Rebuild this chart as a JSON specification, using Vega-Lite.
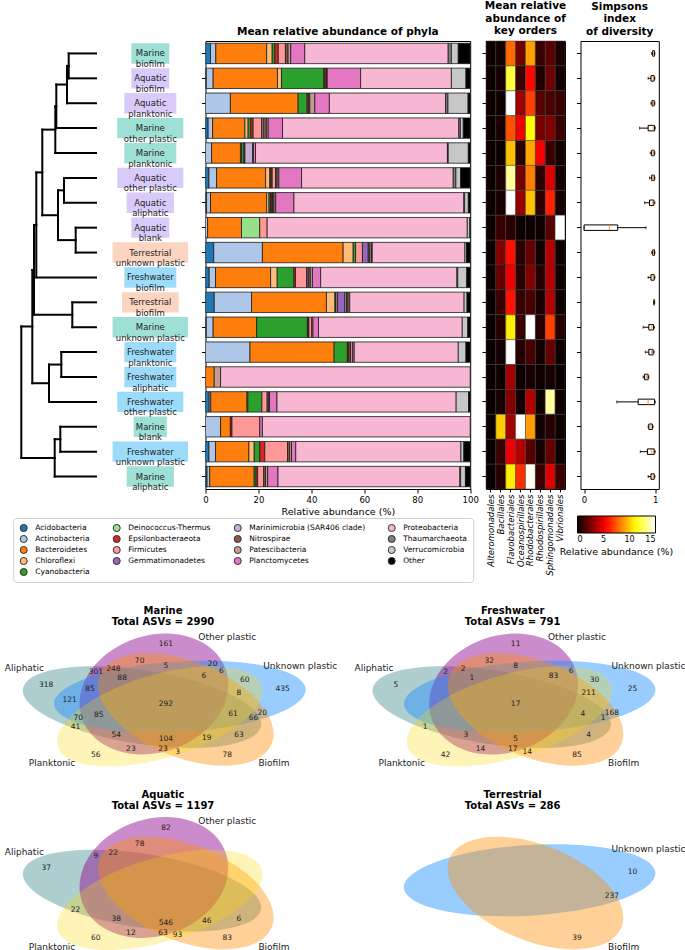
{
 "$schema": "https://vega.github.io/schema/vega-lite/v6.json",
 "padding": 0,
 "background": "white",
 "config": {
  "font": "DejaVu Sans",
  "view": {"stroke": "black", "strokeWidth": 1},
  "axis": {"domain": false, "grid": false, "labelFont": "DejaVu Sans", "labelFontSize": 8.5, "labelColor": "black", "tickColor": "black", "tickSize": 4, "tickWidth": 1, "titleFont": "DejaVu Sans", "titleFontSize": 9.5, "titleFontWeight": "normal", "titleColor": "black", "labelFlush": false, "labelOverlap": false, "labelPadding": 2, "titlePadding": 3},
  "title": {"font": "DejaVu Sans", "fontSize": 10.5, "fontWeight": "bold", "color": "black", "anchor": "middle", "offset": 4, "lineHeight": 12.5},
  "legend": {"labelFont": "DejaVu Sans", "titleFont": "DejaVu Sans", "labelColor": "black", "titleColor": "black"}
 },
 "datasets": {
  "bars": [
   {"sample": "Marine biofilm", "Acidobacteria": 1.9, "Actinobacteria": 2.0, "Bacteroidetes": 19.2, "Chloroflexi": 2.1, "Cyanobacteria": 1.0, "Epsilonbacteraeota": 1.3, "Firmicutes": 2.7, "Nitrospirae": 1.0, "Patescibacteria": 1.0, "Planctomycetes": 5.3, "Proteobacteria": 54.2, "Thaumarchaeota": 1.2, "Verrucomicrobia": 2.6, "Other": 4.5},
   {"sample": "Aquatic biofilm", "Acidobacteria": 0.3, "Actinobacteria": 2.6, "Bacteroidetes": 24.3, "Chloroflexi": 1.5, "Cyanobacteria": 16.0, "Epsilonbacteraeota": 0.5, "Nitrospirae": 0.5, "Patescibacteria": 0.3, "Planctomycetes": 12.6, "Proteobacteria": 34.3, "Verrucomicrobia": 5.5, "Other": 1.6},
   {"sample": "Aquatic planktonic", "Actinobacteria": 9.4, "Bacteroidetes": 25.6, "Cyanobacteria": 3.4, "Epsilonbacteraeota": 0.6, "Nitrospirae": 0.4, "Patescibacteria": 1.9, "Planctomycetes": 5.5, "Proteobacteria": 43.9, "Thaumarchaeota": 0.9, "Verrucomicrobia": 7.6, "Other": 0.8},
   {"sample": "Marine other plastic", "Acidobacteria": 1.0, "Actinobacteria": 1.7, "Bacteroidetes": 12.2, "Chloroflexi": 1.2, "Cyanobacteria": 1.0, "Epsilonbacteraeota": 0.9, "Firmicutes": 3.2, "Marinimicrobia (SAR406 clade)": 0.6, "Nitrospirae": 1.2, "Patescibacteria": 0.7, "Planctomycetes": 5.4, "Proteobacteria": 66.6, "Thaumarchaeota": 0.6, "Verrucomicrobia": 1.1, "Other": 2.6},
   {"sample": "Marine planktonic", "Actinobacteria": 2.3, "Bacteroidetes": 10.9, "Chloroflexi": 0.4, "Cyanobacteria": 0.9, "Epsilonbacteraeota": 0.4, "Marinimicrobia (SAR406 clade)": 2.9, "Patescibacteria": 0.3, "Planctomycetes": 0.8, "Proteobacteria": 72.5, "Thaumarchaeota": 0.3, "Verrucomicrobia": 7.6, "Other": 0.7},
   {"sample": "Aquatic other plastic", "Acidobacteria": 1.3, "Actinobacteria": 2.9, "Bacteroidetes": 18.5, "Chloroflexi": 1.6, "Cyanobacteria": 0.4, "Epsilonbacteraeota": 0.5, "Firmicutes": 1.3, "Nitrospirae": 0.6, "Patescibacteria": 0.6, "Planctomycetes": 8.6, "Proteobacteria": 57.3, "Thaumarchaeota": 1.0, "Verrucomicrobia": 1.8, "Other": 3.6},
   {"sample": "Aquatic aliphatic", "Acidobacteria": 0.4, "Actinobacteria": 1.5, "Bacteroidetes": 21.2, "Chloroflexi": 0.9, "Cyanobacteria": 0.5, "Epsilonbacteraeota": 0.5, "Firmicutes": 0.3, "Nitrospirae": 0.6, "Patescibacteria": 0.6, "Planctomycetes": 6.9, "Proteobacteria": 64.2, "Thaumarchaeota": 0.3, "Verrucomicrobia": 1.4, "Other": 0.7},
   {"sample": "Aquatic blank", "Actinobacteria": 0.8, "Bacteroidetes": 12.8, "Deinococcus-Thermus": 6.9, "Firmicutes": 2.8, "Proteobacteria": 75.6, "Verrucomicrobia": 1.0, "Other": 0.1},
   {"sample": "Terrestrial unknown plastic", "Acidobacteria": 3.1, "Actinobacteria": 18.4, "Bacteroidetes": 30.5, "Chloroflexi": 3.8, "Cyanobacteria": 0.9, "Firmicutes": 2.6, "Gemmatimonadetes": 2.2, "Nitrospirae": 0.6, "Patescibacteria": 0.6, "Planctomycetes": 0.3, "Proteobacteria": 35.0, "Verrucomicrobia": 0.6, "Other": 1.4},
   {"sample": "Freshwater biofilm", "Acidobacteria": 1.4, "Actinobacteria": 2.4, "Bacteroidetes": 20.8, "Chloroflexi": 2.5, "Cyanobacteria": 6.3, "Epsilonbacteraeota": 0.6, "Firmicutes": 4.2, "Gemmatimonadetes": 0.6, "Nitrospirae": 0.8, "Patescibacteria": 0.8, "Planctomycetes": 3.1, "Proteobacteria": 51.5, "Thaumarchaeota": 0.3, "Verrucomicrobia": 3.4, "Other": 1.3},
   {"sample": "Terrestrial biofilm", "Acidobacteria": 3.3, "Actinobacteria": 14.1, "Bacteroidetes": 28.3, "Chloroflexi": 3.2, "Cyanobacteria": 0.4, "Firmicutes": 0.6, "Gemmatimonadetes": 2.8, "Marinimicrobia (SAR406 clade)": 0.6, "Nitrospirae": 0.6, "Patescibacteria": 0.6, "Proteobacteria": 43.2, "Verrucomicrobia": 1.1, "Other": 1.2},
   {"sample": "Marine unknown plastic", "Acidobacteria": 0.3, "Actinobacteria": 2.6, "Bacteroidetes": 16.4, "Cyanobacteria": 19.2, "Epsilonbacteraeota": 0.6, "Firmicutes": 1.0, "Patescibacteria": 0.5, "Planctomycetes": 2.1, "Proteobacteria": 54.3, "Verrucomicrobia": 2.1, "Other": 0.9},
   {"sample": "Freshwater planktonic", "Actinobacteria": 16.8, "Bacteroidetes": 31.8, "Cyanobacteria": 5.0, "Epsilonbacteraeota": 0.6, "Nitrospirae": 0.6, "Patescibacteria": 0.8, "Planctomycetes": 0.6, "Proteobacteria": 39.3, "Verrucomicrobia": 2.9, "Other": 1.6},
   {"sample": "Freshwater aliphatic", "Bacteroidetes": 3.3, "Patescibacteria": 2.4, "Proteobacteria": 94.3},
   {"sample": "Freshwater other plastic", "Acidobacteria": 1.4, "Actinobacteria": 0.6, "Bacteroidetes": 13.7, "Chloroflexi": 0.3, "Cyanobacteria": 5.3, "Firmicutes": 2.0, "Nitrospirae": 0.5, "Patescibacteria": 0.4, "Planctomycetes": 2.8, "Proteobacteria": 67.7, "Verrucomicrobia": 4.7, "Other": 0.6},
   {"sample": "Marine blank", "Actinobacteria": 5.7, "Bacteroidetes": 3.7, "Epsilonbacteraeota": 0.6, "Firmicutes": 10.5, "Planctomycetes": 1.0, "Proteobacteria": 78.5},
   {"sample": "Freshwater unknown plastic", "Acidobacteria": 1.3, "Actinobacteria": 2.5, "Bacteroidetes": 12.6, "Chloroflexi": 2.0, "Cyanobacteria": 2.1, "Epsilonbacteraeota": 1.9, "Firmicutes": 8.6, "Nitrospirae": 0.8, "Patescibacteria": 0.7, "Planctomycetes": 1.6, "Proteobacteria": 62.4, "Verrucomicrobia": 1.1, "Other": 2.4},
   {"sample": "Marine aliphatic", "Acidobacteria": 0.6, "Actinobacteria": 1.0, "Bacteroidetes": 16.8, "Cyanobacteria": 0.7, "Epsilonbacteraeota": 0.6, "Firmicutes": 2.3, "Nitrospirae": 0.7, "Patescibacteria": 0.8, "Planctomycetes": 3.9, "Proteobacteria": 68.7, "Thaumarchaeota": 0.3, "Verrucomicrobia": 1.8, "Other": 1.8}
  ],
  "heat": [
   {"sample": "Marine biofilm", "Alteromonadales": 0.1, "Bacillales": 0.2, "Flavobacteriales": 7.8, "Oceanospirillales": 2.3, "Rhodobacterales": 9.1, "Rhodospirillales": 1.0, "Sphingomonadales": 1.8, "Vibrionales": 0.4},
   {"sample": "Aquatic biofilm", "Alteromonadales": 0.1, "Bacillales": 0.2, "Flavobacteriales": 12.1, "Oceanospirillales": 1.0, "Rhodobacterales": 5.6, "Rhodospirillales": 0.5, "Sphingomonadales": 2.2, "Vibrionales": 0.2},
   {"sample": "Aquatic planktonic", "Alteromonadales": 0.1, "Bacillales": 0.1, "Flavobacteriales": 15, "Oceanospirillales": 3.3, "Rhodobacterales": 6.9, "Rhodospirillales": 1.7, "Sphingomonadales": 1.4, "Vibrionales": 1.0},
   {"sample": "Marine other plastic", "Alteromonadales": 0.1, "Bacillales": 0.3, "Flavobacteriales": 7.3, "Oceanospirillales": 5.1, "Rhodobacterales": 11.3, "Rhodospirillales": 2.4, "Sphingomonadales": 2.7, "Vibrionales": 1.0},
   {"sample": "Marine planktonic", "Alteromonadales": 0.1, "Bacillales": 0.1, "Flavobacteriales": 9.8, "Oceanospirillales": 0.7, "Rhodobacterales": 9.2, "Rhodospirillales": 5.2, "Sphingomonadales": 1.0, "Vibrionales": 0.2},
   {"sample": "Aquatic other plastic", "Alteromonadales": 0.1, "Bacillales": 0.4, "Flavobacteriales": 13.5, "Oceanospirillales": 2.4, "Rhodobacterales": 8.3, "Rhodospirillales": 0.7, "Sphingomonadales": 4.7, "Vibrionales": 0.3},
   {"sample": "Aquatic aliphatic", "Alteromonadales": 0.1, "Bacillales": 0.3, "Flavobacteriales": 15, "Oceanospirillales": 3.1, "Rhodobacterales": 9.8, "Rhodospirillales": 0.7, "Sphingomonadales": 6.2, "Vibrionales": 0.3},
   {"sample": "Aquatic blank", "Alteromonadales": 0.1, "Bacillales": 1.0, "Flavobacteriales": 0.7, "Oceanospirillales": 0.1, "Rhodobacterales": 0.1, "Rhodospirillales": 0.1, "Sphingomonadales": 1.7, "Vibrionales": 15},
   {"sample": "Terrestrial unknown plastic", "Alteromonadales": 0.1, "Bacillales": 2.7, "Flavobacteriales": 5.8, "Oceanospirillales": 0.7, "Rhodobacterales": 2.0, "Rhodospirillales": 0.2, "Sphingomonadales": 3.8, "Vibrionales": 0.1},
   {"sample": "Freshwater biofilm", "Alteromonadales": 0.05, "Bacillales": 2.0, "Flavobacteriales": 5.1, "Oceanospirillales": 0.7, "Rhodobacterales": 2.7, "Rhodospirillales": 0.6, "Sphingomonadales": 3.8, "Vibrionales": 0.1},
   {"sample": "Terrestrial biofilm", "Alteromonadales": 0, "Bacillales": 1.0, "Flavobacteriales": 5.9, "Oceanospirillales": 1.0, "Rhodobacterales": 1.4, "Rhodospirillales": 0.3, "Sphingomonadales": 3.8, "Vibrionales": 0.1},
   {"sample": "Marine unknown plastic", "Alteromonadales": 0, "Bacillales": 0.6, "Flavobacteriales": 10.8, "Oceanospirillales": 1.0, "Rhodobacterales": 15, "Rhodospirillales": 0.6, "Sphingomonadales": 6.9, "Vibrionales": 0.6},
   {"sample": "Freshwater planktonic", "Alteromonadales": 0, "Bacillales": 0.2, "Flavobacteriales": 15, "Oceanospirillales": 0.6, "Rhodobacterales": 1.4, "Rhodospirillales": 0.2, "Sphingomonadales": 2.0, "Vibrionales": 0.1},
   {"sample": "Freshwater aliphatic", "Alteromonadales": 0, "Bacillales": 0.1, "Flavobacteriales": 3.4, "Oceanospirillales": 0.1, "Rhodobacterales": 0.3, "Rhodospirillales": 0.1, "Sphingomonadales": 0.3, "Vibrionales": 0},
   {"sample": "Freshwater other plastic", "Alteromonadales": 0, "Bacillales": 0.3, "Flavobacteriales": 2.7, "Oceanospirillales": 0.2, "Rhodobacterales": 3.8, "Rhodospirillales": 0.1, "Sphingomonadales": 13.6, "Vibrionales": 0.1},
   {"sample": "Marine blank", "Alteromonadales": 0, "Bacillales": 10.1, "Flavobacteriales": 3.4, "Oceanospirillales": 15, "Rhodobacterales": 9.0, "Rhodospirillales": 0.2, "Sphingomonadales": 0.6, "Vibrionales": 0.1},
   {"sample": "Freshwater unknown plastic", "Alteromonadales": 0, "Bacillales": 1.0, "Flavobacteriales": 5.1, "Oceanospirillales": 3.8, "Rhodobacterales": 1.7, "Rhodospirillales": 0.3, "Sphingomonadales": 2.0, "Vibrionales": 0.1},
   {"sample": "Marine aliphatic", "Alteromonadales": 0, "Bacillales": 0.6, "Flavobacteriales": 10.8, "Oceanospirillales": 6.5, "Rhodobacterales": 14.8, "Rhodospirillales": 1.0, "Sphingomonadales": 4.8, "Vibrionales": 1.0}
  ],
  "box": [
   {"sample": "Marine biofilm", "lo": 0.95, "q1": 0.965, "med": 0.98, "q3": 0.99, "hi": 0.995},
   {"sample": "Aquatic biofilm", "lo": 0.9, "q1": 0.94, "med": 0.97, "q3": 0.985, "hi": 0.995},
   {"sample": "Aquatic planktonic", "lo": 0.94, "q1": 0.955, "med": 0.975, "q3": 0.985, "hi": 0.995},
   {"sample": "Marine other plastic", "lo": 0.78, "q1": 0.9, "med": 0.97, "q3": 0.99, "hi": 1.0},
   {"sample": "Marine planktonic", "lo": 0.93, "q1": 0.95, "med": 0.975, "q3": 0.985, "hi": 0.995},
   {"sample": "Aquatic other plastic", "lo": 0.92, "q1": 0.95, "med": 0.97, "q3": 0.985, "hi": 0.995},
   {"sample": "Aquatic aliphatic", "lo": 0.85, "q1": 0.92, "med": 0.965, "q3": 0.98, "hi": 0.995},
   {"sample": "Aquatic blank", "lo": 0.0, "q1": 0.0, "med": 0.357, "q3": 0.473, "hi": 0.87},
   {"sample": "Terrestrial unknown plastic", "lo": 0.95, "q1": 0.965, "med": 0.98, "q3": 0.99, "hi": 0.995},
   {"sample": "Freshwater biofilm", "lo": 0.9, "q1": 0.94, "med": 0.97, "q3": 0.985, "hi": 0.995},
   {"sample": "Terrestrial biofilm", "lo": 0.975, "q1": 0.98, "med": 0.985, "q3": 0.99, "hi": 0.993},
   {"sample": "Marine unknown plastic", "lo": 0.83, "q1": 0.91, "med": 0.95, "q3": 0.975, "hi": 0.99},
   {"sample": "Freshwater planktonic", "lo": 0.86, "q1": 0.91, "med": 0.95, "q3": 0.97, "hi": 0.985},
   {"sample": "Freshwater aliphatic", "lo": 0.83, "q1": 0.85, "med": 0.88, "q3": 0.9, "hi": 0.91},
   {"sample": "Freshwater other plastic", "lo": 0.46, "q1": 0.76, "med": 0.9, "q3": 0.99, "hi": 1.0},
   {"sample": "Marine blank", "lo": 0.9, "q1": 0.91, "med": 0.94, "q3": 0.96, "hi": 0.97},
   {"sample": "Freshwater unknown plastic", "lo": 0.79, "q1": 0.89, "med": 0.95, "q3": 0.985, "hi": 1.0},
   {"sample": "Marine aliphatic", "lo": 0.9, "q1": 0.94, "med": 0.97, "q3": 0.985, "hi": 0.995}
  ],
  "dendro": [
   {"x": 27.3, "x2": 27.3, "y": 0, "y2": 1}, {"x": 0, "x2": 27.3, "y": 0, "y2": 0}, {"x": 0, "x2": 27.3, "y": 1, "y2": 1},
   {"x": 29, "x2": 29, "y": 0.5, "y2": 2}, {"x": 27.3, "x2": 29, "y": 0.5, "y2": 0.5}, {"x": 0, "x2": 29, "y": 2, "y2": 2},
   {"x": 39.7, "x2": 39.7, "y": 1.25, "y2": 3}, {"x": 29, "x2": 39.7, "y": 1.25, "y2": 1.25}, {"x": 0, "x2": 39.7, "y": 3, "y2": 3},
   {"x": 40.7, "x2": 40.7, "y": 2.125, "y2": 4}, {"x": 39.7, "x2": 40.7, "y": 2.125, "y2": 2.125}, {"x": 0, "x2": 40.7, "y": 4, "y2": 4},
   {"x": 32, "x2": 32, "y": 5, "y2": 6}, {"x": 0, "x2": 32, "y": 5, "y2": 5}, {"x": 0, "x2": 32, "y": 6, "y2": 6},
   {"x": 20.3, "x2": 20.3, "y": 7, "y2": 8}, {"x": 0, "x2": 20.3, "y": 7, "y2": 7}, {"x": 0, "x2": 20.3, "y": 8, "y2": 8},
   {"x": 38, "x2": 38, "y": 5.5, "y2": 7.5}, {"x": 32, "x2": 38, "y": 5.5, "y2": 5.5}, {"x": 20.3, "x2": 38, "y": 7.5, "y2": 7.5},
   {"x": 53.7, "x2": 53.7, "y": 3.06, "y2": 6.5}, {"x": 40.7, "x2": 53.7, "y": 3.06, "y2": 3.06}, {"x": 38, "x2": 53.7, "y": 6.5, "y2": 6.5},
   {"x": 59.7, "x2": 59.7, "y": 4.78, "y2": 9}, {"x": 53.7, "x2": 59.7, "y": 4.78, "y2": 4.78}, {"x": 0, "x2": 59.7, "y": 9, "y2": 9},
   {"x": 23.7, "x2": 23.7, "y": 10, "y2": 11}, {"x": 0, "x2": 23.7, "y": 10, "y2": 10}, {"x": 0, "x2": 23.7, "y": 11, "y2": 11},
   {"x": 62, "x2": 62, "y": 6.89, "y2": 10.5}, {"x": 59.7, "x2": 62, "y": 6.89, "y2": 6.89}, {"x": 23.7, "x2": 62, "y": 10.5, "y2": 10.5},
   {"x": 34.7, "x2": 34.7, "y": 12, "y2": 13}, {"x": 0, "x2": 34.7, "y": 12, "y2": 12}, {"x": 0, "x2": 34.7, "y": 13, "y2": 13},
   {"x": 47, "x2": 47, "y": 12.5, "y2": 14}, {"x": 34.7, "x2": 47, "y": 12.5, "y2": 12.5}, {"x": 0, "x2": 47, "y": 14, "y2": 14},
   {"x": 63.7, "x2": 63.7, "y": 8.7, "y2": 13.25}, {"x": 62, "x2": 63.7, "y": 8.7, "y2": 8.7}, {"x": 47, "x2": 63.7, "y": 13.25, "y2": 13.25},
   {"x": 35.7, "x2": 35.7, "y": 15, "y2": 16}, {"x": 0, "x2": 35.7, "y": 15, "y2": 15}, {"x": 0, "x2": 35.7, "y": 16, "y2": 16},
   {"x": 41.3, "x2": 41.3, "y": 15.5, "y2": 17}, {"x": 35.7, "x2": 41.3, "y": 15.5, "y2": 15.5}, {"x": 0, "x2": 41.3, "y": 17, "y2": 17},
   {"x": 74.7, "x2": 74.7, "y": 10.97, "y2": 16.25}, {"x": 63.7, "x2": 74.7, "y": 10.97, "y2": 10.97}, {"x": 41.3, "x2": 74.7, "y": 16.25, "y2": 16.25}
  ],
  "labels": [
   {"i": 0, "label": ["Marine", "biofilm"], "habitat": "Marine"},
   {"i": 1, "label": ["Aquatic", "biofilm"], "habitat": "Aquatic"},
   {"i": 2, "label": ["Aquatic", "planktonic"], "habitat": "Aquatic"},
   {"i": 3, "label": ["Marine", "other plastic"], "habitat": "Marine"},
   {"i": 4, "label": ["Marine", "planktonic"], "habitat": "Marine"},
   {"i": 5, "label": ["Aquatic", "other plastic"], "habitat": "Aquatic"},
   {"i": 6, "label": ["Aquatic", "aliphatic"], "habitat": "Aquatic"},
   {"i": 7, "label": ["Aquatic", "blank"], "habitat": "Aquatic"},
   {"i": 8, "label": ["Terrestrial", "unknown plastic"], "habitat": "Terrestrial"},
   {"i": 9, "label": ["Freshwater", "biofilm"], "habitat": "Freshwater"},
   {"i": 10, "label": ["Terrestrial", "biofilm"], "habitat": "Terrestrial"},
   {"i": 11, "label": ["Marine", "unknown plastic"], "habitat": "Marine"},
   {"i": 12, "label": ["Freshwater", "planktonic"], "habitat": "Freshwater"},
   {"i": 13, "label": ["Freshwater", "aliphatic"], "habitat": "Freshwater"},
   {"i": 14, "label": ["Freshwater", "other plastic"], "habitat": "Freshwater"},
   {"i": 15, "label": ["Marine", "blank"], "habitat": "Marine"},
   {"i": 16, "label": ["Freshwater", "unknown plastic"], "habitat": "Freshwater"},
   {"i": 17, "label": ["Marine", "aliphatic"], "habitat": "Marine"}
  ],
  "vsets": [
   {"panel": "Marine", "set": "Aliphatic", "cx": 0.428, "cy": 0.449},
   {"panel": "Marine", "set": "Other plastic", "cx": 0.469, "cy": 0.543},
   {"panel": "Marine", "set": "Unknown plastic", "cx": 0.558, "cy": 0.523},
   {"panel": "Marine", "set": "Biofilm", "cx": 0.578, "cy": 0.432},
   {"panel": "Marine", "set": "Planktonic", "cx": 0.489, "cy": 0.383},
   {"panel": "Freshwater", "set": "Aliphatic", "cx": 0.428, "cy": 0.449},
   {"panel": "Freshwater", "set": "Other plastic", "cx": 0.469, "cy": 0.543},
   {"panel": "Freshwater", "set": "Unknown plastic", "cx": 0.558, "cy": 0.523},
   {"panel": "Freshwater", "set": "Biofilm", "cx": 0.578, "cy": 0.432},
   {"panel": "Freshwater", "set": "Planktonic", "cx": 0.489, "cy": 0.383},
   {"panel": "Aquatic", "set": "Aliphatic", "cx": 0.428, "cy": 0.449},
   {"panel": "Aquatic", "set": "Other plastic", "cx": 0.469, "cy": 0.543},
   {"panel": "Aquatic", "set": "Biofilm", "cx": 0.578, "cy": 0.432},
   {"panel": "Aquatic", "set": "Planktonic", "cx": 0.489, "cy": 0.383},
   {"panel": "Terrestrial", "set": "Unknown plastic", "cx": 0.558, "cy": 0.523},
   {"panel": "Terrestrial", "set": "Biofilm", "cx": 0.578, "cy": 0.432}
  ],
  "vnames": [
   {"panel": "Marine", "name": "Aliphatic", "u": 0.025, "v": 0.727},
   {"panel": "Marine", "name": "Other plastic", "u": 0.72, "v": 0.95},
   {"panel": "Marine", "name": "Unknown plastic", "u": 0.97, "v": 0.745},
   {"panel": "Marine", "name": "Biofilm", "u": 0.88, "v": 0.05},
   {"panel": "Marine", "name": "Planktonic", "u": 0.12, "v": 0.05},
   {"panel": "Freshwater", "name": "Aliphatic", "u": 0.025, "v": 0.727},
   {"panel": "Freshwater", "name": "Other plastic", "u": 0.72, "v": 0.95},
   {"panel": "Freshwater", "name": "Unknown plastic", "u": 0.965, "v": 0.745},
   {"panel": "Freshwater", "name": "Biofilm", "u": 0.88, "v": 0.05},
   {"panel": "Freshwater", "name": "Planktonic", "u": 0.12, "v": 0.05},
   {"panel": "Aquatic", "name": "Aliphatic", "u": 0.025, "v": 0.727},
   {"panel": "Aquatic", "name": "Other plastic", "u": 0.72, "v": 0.95},
   {"panel": "Aquatic", "name": "Biofilm", "u": 0.88, "v": 0.05},
   {"panel": "Aquatic", "name": "Planktonic", "u": 0.12, "v": 0.05},
   {"panel": "Terrestrial", "name": "Unknown plastic", "u": 0.965, "v": 0.745},
   {"panel": "Terrestrial", "name": "Biofilm", "u": 0.88, "v": 0.05}
  ],
  "vcounts": [
   {"panel": "Marine", "u": 0.27, "v": 0.11, "n": 56}, {"panel": "Marine", "u": 0.72, "v": 0.11, "n": 78}, {"panel": "Marine", "u": 0.55, "v": 0.13, "n": 3},
   {"panel": "Marine", "u": 0.91, "v": 0.58, "n": 435}, {"panel": "Marine", "u": 0.78, "v": 0.64, "n": 60}, {"panel": "Marine", "u": 0.84, "v": 0.41, "n": 20},
   {"panel": "Marine", "u": 0.76, "v": 0.55, "n": 8}, {"panel": "Marine", "u": 0.51, "v": 0.9, "n": 161}, {"panel": "Marine", "u": 0.39, "v": 0.15, "n": 23},
   {"panel": "Marine", "u": 0.42, "v": 0.78, "n": 70}, {"panel": "Marine", "u": 0.5, "v": 0.15, "n": 23}, {"panel": "Marine", "u": 0.67, "v": 0.76, "n": 20},
   {"panel": "Marine", "u": 0.7, "v": 0.71, "n": 6}, {"panel": "Marine", "u": 0.51, "v": 0.74, "n": 5}, {"panel": "Marine", "u": 0.64, "v": 0.67, "n": 6},
   {"panel": "Marine", "u": 0.1, "v": 0.61, "n": 318}, {"panel": "Marine", "u": 0.2, "v": 0.31, "n": 41}, {"panel": "Marine", "u": 0.76, "v": 0.25, "n": 63},
   {"panel": "Marine", "u": 0.65, "v": 0.23, "n": 19}, {"panel": "Marine", "u": 0.18, "v": 0.5, "n": 121}, {"panel": "Marine", "u": 0.21, "v": 0.37, "n": 70},
   {"panel": "Marine", "u": 0.81, "v": 0.37, "n": 66}, {"panel": "Marine", "u": 0.74, "v": 0.4, "n": 61}, {"panel": "Marine", "u": 0.27, "v": 0.7, "n": 301},
   {"panel": "Marine", "u": 0.34, "v": 0.25, "n": 54}, {"panel": "Marine", "u": 0.33, "v": 0.72, "n": 248}, {"panel": "Marine", "u": 0.51, "v": 0.22, "n": 104},
   {"panel": "Marine", "u": 0.25, "v": 0.58, "n": 85}, {"panel": "Marine", "u": 0.28, "v": 0.39, "n": 85}, {"panel": "Marine", "u": 0.36, "v": 0.66, "n": 88},
   {"panel": "Marine", "u": 0.51, "v": 0.47, "n": 292},
   {"panel": "Freshwater", "u": 0.27, "v": 0.11, "n": 42}, {"panel": "Freshwater", "u": 0.72, "v": 0.11, "n": 85}, {"panel": "Freshwater", "u": 0.55, "v": 0.13, "n": 14},
   {"panel": "Freshwater", "u": 0.91, "v": 0.58, "n": 25}, {"panel": "Freshwater", "u": 0.78, "v": 0.64, "n": 30}, {"panel": "Freshwater", "u": 0.84, "v": 0.41, "n": 168},
   {"panel": "Freshwater", "u": 0.76, "v": 0.55, "n": 211}, {"panel": "Freshwater", "u": 0.51, "v": 0.9, "n": 11}, {"panel": "Freshwater", "u": 0.39, "v": 0.15, "n": 14},
   {"panel": "Freshwater", "u": 0.42, "v": 0.78, "n": 32}, {"panel": "Freshwater", "u": 0.5, "v": 0.15, "n": 17}, {"panel": "Freshwater", "u": 0.7, "v": 0.71, "n": 6},
   {"panel": "Freshwater", "u": 0.51, "v": 0.74, "n": 8}, {"panel": "Freshwater", "u": 0.64, "v": 0.67, "n": 83}, {"panel": "Freshwater", "u": 0.1, "v": 0.61, "n": 5},
   {"panel": "Freshwater", "u": 0.2, "v": 0.31, "n": 1}, {"panel": "Freshwater", "u": 0.76, "v": 0.25, "n": 4}, {"panel": "Freshwater", "u": 0.81, "v": 0.37, "n": 1},
   {"panel": "Freshwater", "u": 0.74, "v": 0.4, "n": 4}, {"panel": "Freshwater", "u": 0.27, "v": 0.7, "n": 2}, {"panel": "Freshwater", "u": 0.34, "v": 0.25, "n": 3},
   {"panel": "Freshwater", "u": 0.33, "v": 0.72, "n": 2}, {"panel": "Freshwater", "u": 0.51, "v": 0.22, "n": 5}, {"panel": "Freshwater", "u": 0.36, "v": 0.66, "n": 1},
   {"panel": "Freshwater", "u": 0.51, "v": 0.47, "n": 17},
   {"panel": "Aquatic", "u": 0.27, "v": 0.11, "n": 60}, {"panel": "Aquatic", "u": 0.72, "v": 0.11, "n": 83}, {"panel": "Aquatic", "u": 0.55, "v": 0.13, "n": 93},
   {"panel": "Aquatic", "u": 0.51, "v": 0.9, "n": 82}, {"panel": "Aquatic", "u": 0.39, "v": 0.15, "n": 12}, {"panel": "Aquatic", "u": 0.42, "v": 0.78, "n": 78},
   {"panel": "Aquatic", "u": 0.5, "v": 0.15, "n": 63}, {"panel": "Aquatic", "u": 0.1, "v": 0.61, "n": 37}, {"panel": "Aquatic", "u": 0.2, "v": 0.31, "n": 22},
   {"panel": "Aquatic", "u": 0.76, "v": 0.25, "n": 6}, {"panel": "Aquatic", "u": 0.65, "v": 0.23, "n": 46}, {"panel": "Aquatic", "u": 0.27, "v": 0.7, "n": 9},
   {"panel": "Aquatic", "u": 0.34, "v": 0.25, "n": 38}, {"panel": "Aquatic", "u": 0.33, "v": 0.72, "n": 22}, {"panel": "Aquatic", "u": 0.51, "v": 0.22, "n": 546},
   {"panel": "Terrestrial", "u": 0.91, "v": 0.58, "n": 10}, {"panel": "Terrestrial", "u": 0.84, "v": 0.41, "n": 237}, {"panel": "Terrestrial", "u": 0.72, "v": 0.11, "n": 39}
  ]
 },
 "columns": 4,
 "align": "each",
 "bounds": "flush",
 "spacing": {"row": 43.5, "column": 15.5},
 "resolve": {"scale": {"x": "independent", "y": "independent", "color": "independent", "fill": "independent", "shape": "independent"}, "legend": {"color": "independent", "fill": "independent", "shape": "independent"}},
 "concat": [
  {
   "width": 186.8, "height": 448,
   "view": {"stroke": null},
   "layer": [
    {
     "data": {"name": "dendro"},
     "mark": {"type": "rule", "strokeWidth": 2, "color": "black", "strokeCap": "square"},
     "encoding": {
      "x": {"field": "x", "type": "quantitative", "scale": {"domain": [93, -93.8], "nice": false, "zero": false}, "axis": null},
      "x2": {"field": "x2"},
      "y": {"field": "y", "type": "quantitative", "scale": {"domain": [-0.5, 17.5], "reverse": true, "nice": false, "zero": false}, "axis": null},
      "y2": {"field": "y2"}
     }
    },
    {
     "data": {"name": "labels"},
     "transform": [
      {"calculate": "max(length(datum.label[0]), length(datum.label[1])) * 2.35 + 2.5", "as": "hw"},
      {"calculate": "-54.3 - datum.hw", "as": "xl"},
      {"calculate": "-54.3 + datum.hw", "as": "xr"},
      {"calculate": "datum.i - 0.41", "as": "yt"},
      {"calculate": "datum.i + 0.41", "as": "yb"}
     ],
     "mark": {"type": "rect"},
     "encoding": {
      "x": {"field": "xl", "type": "quantitative", "scale": {"domain": [93, -93.8], "nice": false, "zero": false}, "axis": null},
      "x2": {"field": "xr"},
      "y": {"field": "yt", "type": "quantitative", "scale": {"domain": [-0.5, 17.5], "reverse": true, "nice": false, "zero": false}, "axis": null},
      "y2": {"field": "yb"},
      "fill": {"field": "habitat", "type": "nominal", "scale": {"domain": ["Marine", "Aquatic", "Terrestrial", "Freshwater"], "range": ["#9fe0d6", "#d8cbfa", "#fcd5c0", "#9cdcfa"]}, "legend": null}
     }
    },
    {
     "data": {"name": "labels"},
     "mark": {"type": "text", "fontSize": 8.5, "lineHeight": 10.5, "color": "#222", "baseline": "middle", "align": "center"},
     "encoding": {
      "x": {"datum": -54.3, "type": "quantitative", "scale": {"domain": [93, -93.8], "nice": false, "zero": false}, "axis": null},
      "y": {"field": "i", "type": "quantitative", "scale": {"domain": [-0.5, 17.5], "reverse": true, "nice": false, "zero": false}, "axis": null},
      "text": {"field": "label"}
     }
    }
   ]
  },
  {
   "width": 264.7, "height": 448,
   "title": {"text": "Mean relative abundance of phyla"},
   "data": {"name": "bars"},
   "transform": [
    {"fold": ["Acidobacteria", "Actinobacteria", "Bacteroidetes", "Chloroflexi", "Cyanobacteria", "Deinococcus-Thermus", "Epsilonbacteraeota", "Firmicutes", "Gemmatimonadetes", "Marinimicrobia (SAR406 clade)", "Nitrospirae", "Patescibacteria", "Planctomycetes", "Proteobacteria", "Thaumarchaeota", "Verrucomicrobia", "Other"], "as": ["phylum", "value"]},
    {"filter": "isValid(datum.value) && datum.value > 0"},
    {"calculate": "indexof(['Acidobacteria', 'Actinobacteria', 'Bacteroidetes', 'Chloroflexi', 'Cyanobacteria', 'Deinococcus-Thermus', 'Epsilonbacteraeota', 'Firmicutes', 'Gemmatimonadetes', 'Marinimicrobia (SAR406 clade)', 'Nitrospirae', 'Patescibacteria', 'Planctomycetes', 'Proteobacteria', 'Thaumarchaeota', 'Verrucomicrobia', 'Other'], datum.phylum)", "as": "k"}
   ],
   "mark": {"type": "bar", "stroke": "#1a1a1a", "strokeWidth": 0.8, "clip": true},
   "encoding": {
    "y": {"field": "sample", "type": "nominal", "sort": ["Marine biofilm", "Aquatic biofilm", "Aquatic planktonic", "Marine other plastic", "Marine planktonic", "Aquatic other plastic", "Aquatic aliphatic", "Aquatic blank", "Terrestrial unknown plastic", "Freshwater biofilm", "Terrestrial biofilm", "Marine unknown plastic", "Freshwater planktonic", "Freshwater aliphatic", "Freshwater other plastic", "Marine blank", "Freshwater unknown plastic", "Marine aliphatic"], "scale": {"paddingInner": 0.18, "paddingOuter": 0.09}, "axis": {"labels": false, "title": null}},
    "x": {"field": "value", "type": "quantitative", "stack": "zero", "scale": {"domain": [0, 100], "nice": false}, "axis": {"values": [0, 20, 40, 60, 80, 100], "title": "Relative abundance (%)"}},
    "color": {
     "field": "phylum", "type": "nominal",
     "scale": {"domain": ["Acidobacteria", "Actinobacteria", "Bacteroidetes", "Chloroflexi", "Cyanobacteria", "Deinococcus-Thermus", "Epsilonbacteraeota", "Firmicutes", "Gemmatimonadetes", "Marinimicrobia (SAR406 clade)", "Nitrospirae", "Patescibacteria", "Planctomycetes", "Proteobacteria", "Thaumarchaeota", "Verrucomicrobia", "Other"],
               "range": ["#1f77b4", "#aec7e8", "#ff7f0e", "#ffbb78", "#2ca02c", "#98df8a", "#d62728", "#ff9896", "#9467bd", "#c5b0d5", "#8c564b", "#c49c94", "#e377c2", "#f7b6d2", "#7f7f7f", "#c7c7c7", "#000000"]},
     "legend": {
      "orient": "none", "legendX": -192.3, "legendY": 477, "columns": 4, "direction": "horizontal", "title": null,
      "values": ["Acidobacteria", "Deinococcus-Thermus", "Marinimicrobia (SAR406 clade)", "Proteobacteria", "Actinobacteria", "Epsilonbacteraeota", "Nitrospirae", "Thaumarchaeota", "Bacteroidetes", "Firmicutes", "Patescibacteria", "Verrucomicrobia", "Chloroflexi", "Gemmatimonadetes", "Planctomycetes", "Other", "Cyanobacteria"],
      "symbolType": "circle", "symbolSize": 50, "symbolStrokeColor": "#333", "symbolStrokeWidth": 1, "symbolOpacity": 1,
      "labelFontSize": 7.5, "labelOffset": 7, "columnPadding": 22, "rowPadding": 3, "clipHeight": 8, "padding": 6,
      "strokeColor": "#d0d0d0", "fillColor": "white", "cornerRadius": 3
     }
    },
    "order": {"field": "k", "type": "quantitative"}
   }
  },
  {
   "width": 79, "height": 448,
   "title": {"text": ["Mean relative", "abundance of", "key orders"]},
   "data": {"name": "heat"},
   "transform": [{"fold": ["Alteromonadales", "Bacillales", "Flavobacteriales", "Oceanospirillales", "Rhodobacterales", "Rhodospirillales", "Sphingomonadales", "Vibrionales"], "as": ["order", "value"]}],
   "mark": {"type": "rect", "stroke": "#3a3a3a", "strokeWidth": 0.5},
   "encoding": {
    "x": {"field": "order", "type": "nominal", "sort": ["Alteromonadales", "Bacillales", "Flavobacteriales", "Oceanospirillales", "Rhodobacterales", "Rhodospirillales", "Sphingomonadales", "Vibrionales"], "scale": {"paddingInner": 0, "paddingOuter": 0}, "axis": {"title": null, "labelAngle": 270, "labelFontStyle": "italic", "labelFontSize": 8.5, "tickSize": 3}},
    "y": {"field": "sample", "type": "nominal", "sort": ["Marine biofilm", "Aquatic biofilm", "Aquatic planktonic", "Marine other plastic", "Marine planktonic", "Aquatic other plastic", "Aquatic aliphatic", "Aquatic blank", "Terrestrial unknown plastic", "Freshwater biofilm", "Terrestrial biofilm", "Marine unknown plastic", "Freshwater planktonic", "Freshwater aliphatic", "Freshwater other plastic", "Marine blank", "Freshwater unknown plastic", "Marine aliphatic"], "scale": {"paddingInner": 0, "paddingOuter": 0}, "axis": {"labels": false, "title": null}},
    "color": {
     "field": "value", "type": "quantitative",
     "scale": {"domain": [0, 5.47, 11.19, 15], "range": ["#0b0000", "#ff0000", "#ffff00", "#ffffff"], "clamp": true, "interpolate": "rgb"},
     "legend": {"orient": "none", "legendX": 73.5, "legendY": 475, "direction": "horizontal", "gradientLength": 78, "gradientThickness": 17, "values": [0, 5, 10, 15], "title": "Relative abundance (%)", "titleOrient": "bottom", "titleFontSize": 9.5, "titleFontWeight": "normal", "titleAnchor": "middle", "labelFontSize": 8, "gradientStrokeColor": "black", "gradientStrokeWidth": 1, "titlePadding": 3, "labelOffset": 3}
    }
   }
  },
  {
   "width": 78.3, "height": 448,
   "title": {"text": ["Simpsons", "index", "of diversity"]},
   "data": {"name": "box"},
   "encoding": {"y": {"field": "sample", "type": "nominal", "sort": ["Marine biofilm", "Aquatic biofilm", "Aquatic planktonic", "Marine other plastic", "Marine planktonic", "Aquatic other plastic", "Aquatic aliphatic", "Aquatic blank", "Terrestrial unknown plastic", "Freshwater biofilm", "Terrestrial biofilm", "Marine unknown plastic", "Freshwater planktonic", "Freshwater aliphatic", "Freshwater other plastic", "Marine blank", "Freshwater unknown plastic", "Marine aliphatic"], "scale": {"paddingInner": 0, "paddingOuter": 0}, "axis": {"labels": false, "title": null}}},
   "layer": [
    {"mark": {"type": "rule", "color": "black", "strokeWidth": 1}, "encoding": {"x": {"field": "lo", "type": "quantitative", "title": null, "scale": {"domain": [-0.05, 1.05], "nice": false, "zero": false}, "axis": {"values": [0, 1], "format": "d", "title": null}}, "x2": {"field": "hi", "title": null}}},
    {"mark": {"type": "bar", "fill": "white", "stroke": "black", "strokeWidth": 1, "size": 5.5}, "encoding": {"x": {"field": "q1", "type": "quantitative", "title": null}, "x2": {"field": "q3", "title": null}}},
    {"mark": {"type": "tick", "color": "#ff7f0e", "thickness": 1.2, "size": 5.5}, "encoding": {"x": {"field": "med", "type": "quantitative", "title": null}}},
    {"mark": {"type": "tick", "color": "black", "thickness": 1, "size": 3}, "encoding": {"x": {"field": "lo", "type": "quantitative", "title": null}}},
    {"mark": {"type": "tick", "color": "black", "thickness": 1, "size": 3}, "encoding": {"x": {"field": "hi", "type": "quantitative", "title": null}}}
   ]
  },
  {"width": 1, "height": 53.5, "view": {"stroke": null}, "data": {"values": [{"z": 0}]}, "mark": {"type": "point", "opacity": 0}, "encoding": {}},
  {"width": 1, "height": 53.5, "view": {"stroke": null}, "data": {"values": [{"z": 0}]}, "mark": {"type": "point", "opacity": 0}, "encoding": {}},
  {"width": 1, "height": 53.5, "view": {"stroke": null}, "data": {"values": [{"z": 0}]}, "mark": {"type": "point", "opacity": 0}, "encoding": {}},
  {"width": 1, "height": 53.5, "view": {"stroke": null}, "data": {"values": [{"z": 0}]}, "mark": {"type": "point", "opacity": 0}, "encoding": {}},
  {
   "width": 186.8, "height": 140,
   "view": {"stroke": null},
   "title": {"text": ["Marine", "Total ASVs = 2990"], "fontSize": 10, "lineHeight": 11, "offset": 3, "dx": 66.6},
   "layer": [
    {"data": {"name": "vsets"}, "transform": [{"filter": "datum.panel === 'Marine'"}],
     "mark": {"type": "point", "filled": true, "size": 90000, "strokeWidth": 0, "opacity": 1},
     "encoding": {
      "x": {"field": "cx", "type": "quantitative", "scale": {"domain": [-0.04795, 0.59178], "nice": false, "zero": false}, "axis": null},
      "y": {"field": "cy", "type": "quantitative", "scale": {"domain": [0, 1], "nice": false, "zero": false}, "axis": null},
      "shape": {"field": "set", "type": "nominal", "scale": {"domain": ["Aliphatic", "Other plastic", "Unknown plastic", "Biofilm", "Planktonic"], "range": ["M-0.7675,-0.1716C-0.8811,-0.0548,-0.6296,0.1167,-0.2057,0.2115C0.2182,0.3063,0.6539,0.2884,0.7675,0.1716C0.8811,0.0548,0.6296,-0.1167,0.2057,-0.2115C-0.2182,-0.3063,-0.6539,-0.2884,-0.7675,-0.1716Z", "M0.1179,-0.4021C-0.1483,-0.42,-0.4168,-0.2546,-0.4819,-0.0325C-0.547,0.1896,-0.3841,0.3842,-0.1179,0.4021C0.1483,0.42,0.4168,0.2546,0.4819,0.0325C0.547,-0.1896,0.3841,-0.3842,0.1179,-0.4021Z", "M0.834,-0.0705C0.7873,-0.1974,0.3761,-0.2687,-0.0845,-0.2298C-0.5451,-0.1909,-0.8807,-0.0564,-0.834,0.0705C-0.7873,0.1974,-0.3761,0.2687,0.0845,0.2298C0.5451,0.1909,0.8807,0.0564,0.834,-0.0705Z", "M-0.3976,-0.3585C-0.6349,-0.298,-0.6493,-0.0885,-0.4297,0.1095C-0.2101,0.3075,0.1603,0.419,0.3976,0.3585C0.6349,0.298,0.6493,0.0885,0.4297,-0.1095C0.2101,-0.3075,-0.1603,-0.419,-0.3976,-0.3585Z", "M0.5882,-0.2921C0.3948,-0.3816,-0.0252,-0.3234,-0.3501,-0.1621C-0.675,-0.0008,-0.7816,0.2026,-0.5882,0.2921C-0.3948,0.3816,0.0252,0.3234,0.3501,0.1621C0.675,0.0008,0.7816,-0.2026,0.5882,-0.2921Z"]}, "legend": null},
      "fill": {"field": "set", "type": "nominal", "scale": {"domain": ["Aliphatic", "Other plastic", "Unknown plastic", "Biofilm", "Planktonic"], "range": ["rgba(95,158,160,0.5)", "rgba(139,0,139,0.45)", "rgba(30,144,255,0.45)", "rgba(255,140,0,0.4)", "rgba(255,215,0,0.28)"]}, "legend": null}
     }},
    {"data": {"name": "vcounts"}, "transform": [{"filter": "datum.panel === 'Marine'"}],
     "mark": {"type": "text", "fontSize": 7.5, "color": "#222"},
     "encoding": {
      "x": {"field": "u", "type": "quantitative", "scale": {"domain": [-0.04795, 0.59178], "nice": false, "zero": false}, "axis": null},
      "y": {"field": "v", "type": "quantitative", "scale": {"domain": [0, 1], "nice": false, "zero": false}, "axis": null},
      "text": {"field": "n", "type": "nominal"}
     }},
    {"data": {"name": "vnames"}, "transform": [{"filter": "datum.panel === 'Marine'"}],
     "mark": {"type": "text", "fontSize": 9, "color": "#222"},
     "encoding": {
      "x": {"field": "u", "type": "quantitative", "scale": {"domain": [-0.04795, 0.59178], "nice": false, "zero": false}, "axis": null},
      "y": {"field": "v", "type": "quantitative", "scale": {"domain": [0, 1], "nice": false, "zero": false}, "axis": null},
      "text": {"field": "name", "type": "nominal"}
     }}
   ]
  },
  {
   "width": 264.7, "height": 140,
   "view": {"stroke": null},
   "title": {"text": ["Freshwater", "Total ASVs = 791"], "fontSize": 10, "lineHeight": 11, "offset": 3, "dx": 174.85},
   "layer": [
    {"data": {"name": "vsets"}, "transform": [{"filter": "datum.panel === 'Freshwater'"}],
     "mark": {"type": "point", "filled": true, "size": 90000, "strokeWidth": 0, "opacity": 1},
     "encoding": {
      "x": {"field": "cx", "type": "quantitative", "scale": {"domain": [-0.55205, 0.35445], "nice": false, "zero": false}, "axis": null},
      "y": {"field": "cy", "type": "quantitative", "scale": {"domain": [0, 1], "nice": false, "zero": false}, "axis": null},
      "shape": {"field": "set", "type": "nominal", "scale": {"domain": ["Aliphatic", "Other plastic", "Unknown plastic", "Biofilm", "Planktonic"], "range": ["M-0.7675,-0.1716C-0.8811,-0.0548,-0.6296,0.1167,-0.2057,0.2115C0.2182,0.3063,0.6539,0.2884,0.7675,0.1716C0.8811,0.0548,0.6296,-0.1167,0.2057,-0.2115C-0.2182,-0.3063,-0.6539,-0.2884,-0.7675,-0.1716Z", "M0.1179,-0.4021C-0.1483,-0.42,-0.4168,-0.2546,-0.4819,-0.0325C-0.547,0.1896,-0.3841,0.3842,-0.1179,0.4021C0.1483,0.42,0.4168,0.2546,0.4819,0.0325C0.547,-0.1896,0.3841,-0.3842,0.1179,-0.4021Z", "M0.834,-0.0705C0.7873,-0.1974,0.3761,-0.2687,-0.0845,-0.2298C-0.5451,-0.1909,-0.8807,-0.0564,-0.834,0.0705C-0.7873,0.1974,-0.3761,0.2687,0.0845,0.2298C0.5451,0.1909,0.8807,0.0564,0.834,-0.0705Z", "M-0.3976,-0.3585C-0.6349,-0.298,-0.6493,-0.0885,-0.4297,0.1095C-0.2101,0.3075,0.1603,0.419,0.3976,0.3585C0.6349,0.298,0.6493,0.0885,0.4297,-0.1095C0.2101,-0.3075,-0.1603,-0.419,-0.3976,-0.3585Z", "M0.5882,-0.2921C0.3948,-0.3816,-0.0252,-0.3234,-0.3501,-0.1621C-0.675,-0.0008,-0.7816,0.2026,-0.5882,0.2921C-0.3948,0.3816,0.0252,0.3234,0.3501,0.1621C0.675,0.0008,0.7816,-0.2026,0.5882,-0.2921Z"]}, "legend": null},
      "fill": {"field": "set", "type": "nominal", "scale": {"domain": ["Aliphatic", "Other plastic", "Unknown plastic", "Biofilm", "Planktonic"], "range": ["rgba(95,158,160,0.5)", "rgba(139,0,139,0.45)", "rgba(30,144,255,0.45)", "rgba(255,140,0,0.4)", "rgba(255,215,0,0.28)"]}, "legend": null}
     }},
    {"data": {"name": "vcounts"}, "transform": [{"filter": "datum.panel === 'Freshwater'"}],
     "mark": {"type": "text", "fontSize": 7.5, "color": "#222"},
     "encoding": {
      "x": {"field": "u", "type": "quantitative", "scale": {"domain": [-0.55205, 0.35445], "nice": false, "zero": false}, "axis": null},
      "y": {"field": "v", "type": "quantitative", "scale": {"domain": [0, 1], "nice": false, "zero": false}, "axis": null},
      "text": {"field": "n", "type": "nominal"}
     }},
    {"data": {"name": "vnames"}, "transform": [{"filter": "datum.panel === 'Freshwater'"}],
     "mark": {"type": "text", "fontSize": 9, "color": "#222"},
     "encoding": {
      "x": {"field": "u", "type": "quantitative", "scale": {"domain": [-0.55205, 0.35445], "nice": false, "zero": false}, "axis": null},
      "y": {"field": "v", "type": "quantitative", "scale": {"domain": [0, 1], "nice": false, "zero": false}, "axis": null},
      "text": {"field": "name", "type": "nominal"}
     }}
   ]
  },
  {"width": 1, "height": 53.5, "view": {"stroke": null}, "data": {"values": [{"z": 0}]}, "mark": {"type": "point", "opacity": 0}, "encoding": {}},
  {"width": 1, "height": 53.5, "view": {"stroke": null}, "data": {"values": [{"z": 0}]}, "mark": {"type": "point", "opacity": 0}, "encoding": {}},
  {
   "width": 186.8, "height": 140,
   "view": {"stroke": null},
   "title": {"text": ["Aquatic", "Total ASVs = 1197"], "fontSize": 10, "lineHeight": 11, "offset": 3, "dx": 66.6},
   "layer": [
    {"data": {"name": "vsets"}, "transform": [{"filter": "datum.panel === 'Aquatic'"}],
     "mark": {"type": "point", "filled": true, "size": 90000, "strokeWidth": 0, "opacity": 1},
     "encoding": {
      "x": {"field": "cx", "type": "quantitative", "scale": {"domain": [-0.04795, 0.59178], "nice": false, "zero": false}, "axis": null},
      "y": {"field": "cy", "type": "quantitative", "scale": {"domain": [0, 1], "nice": false, "zero": false}, "axis": null},
      "shape": {"field": "set", "type": "nominal", "scale": {"domain": ["Aliphatic", "Other plastic", "Unknown plastic", "Biofilm", "Planktonic"], "range": ["M-0.7675,-0.1716C-0.8811,-0.0548,-0.6296,0.1167,-0.2057,0.2115C0.2182,0.3063,0.6539,0.2884,0.7675,0.1716C0.8811,0.0548,0.6296,-0.1167,0.2057,-0.2115C-0.2182,-0.3063,-0.6539,-0.2884,-0.7675,-0.1716Z", "M0.1179,-0.4021C-0.1483,-0.42,-0.4168,-0.2546,-0.4819,-0.0325C-0.547,0.1896,-0.3841,0.3842,-0.1179,0.4021C0.1483,0.42,0.4168,0.2546,0.4819,0.0325C0.547,-0.1896,0.3841,-0.3842,0.1179,-0.4021Z", "M0.834,-0.0705C0.7873,-0.1974,0.3761,-0.2687,-0.0845,-0.2298C-0.5451,-0.1909,-0.8807,-0.0564,-0.834,0.0705C-0.7873,0.1974,-0.3761,0.2687,0.0845,0.2298C0.5451,0.1909,0.8807,0.0564,0.834,-0.0705Z", "M-0.3976,-0.3585C-0.6349,-0.298,-0.6493,-0.0885,-0.4297,0.1095C-0.2101,0.3075,0.1603,0.419,0.3976,0.3585C0.6349,0.298,0.6493,0.0885,0.4297,-0.1095C0.2101,-0.3075,-0.1603,-0.419,-0.3976,-0.3585Z", "M0.5882,-0.2921C0.3948,-0.3816,-0.0252,-0.3234,-0.3501,-0.1621C-0.675,-0.0008,-0.7816,0.2026,-0.5882,0.2921C-0.3948,0.3816,0.0252,0.3234,0.3501,0.1621C0.675,0.0008,0.7816,-0.2026,0.5882,-0.2921Z"]}, "legend": null},
      "fill": {"field": "set", "type": "nominal", "scale": {"domain": ["Aliphatic", "Other plastic", "Unknown plastic", "Biofilm", "Planktonic"], "range": ["rgba(95,158,160,0.5)", "rgba(139,0,139,0.45)", "rgba(30,144,255,0.45)", "rgba(255,140,0,0.4)", "rgba(255,215,0,0.28)"]}, "legend": null}
     }},
    {"data": {"name": "vcounts"}, "transform": [{"filter": "datum.panel === 'Aquatic'"}],
     "mark": {"type": "text", "fontSize": 7.5, "color": "#222"},
     "encoding": {
      "x": {"field": "u", "type": "quantitative", "scale": {"domain": [-0.04795, 0.59178], "nice": false, "zero": false}, "axis": null},
      "y": {"field": "v", "type": "quantitative", "scale": {"domain": [0, 1], "nice": false, "zero": false}, "axis": null},
      "text": {"field": "n", "type": "nominal"}
     }},
    {"data": {"name": "vnames"}, "transform": [{"filter": "datum.panel === 'Aquatic'"}],
     "mark": {"type": "text", "fontSize": 9, "color": "#222"},
     "encoding": {
      "x": {"field": "u", "type": "quantitative", "scale": {"domain": [-0.04795, 0.59178], "nice": false, "zero": false}, "axis": null},
      "y": {"field": "v", "type": "quantitative", "scale": {"domain": [0, 1], "nice": false, "zero": false}, "axis": null},
      "text": {"field": "name", "type": "nominal"}
     }}
   ]
  },
  {
   "width": 264.7, "height": 140,
   "view": {"stroke": null},
   "title": {"text": ["Terrestrial", "Total ASVs = 286"], "fontSize": 10, "lineHeight": 11, "offset": 3, "dx": 174.85},
   "layer": [
    {"data": {"name": "vsets"}, "transform": [{"filter": "datum.panel === 'Terrestrial'"}],
     "mark": {"type": "point", "filled": true, "size": 90000, "strokeWidth": 0, "opacity": 1},
     "encoding": {
      "x": {"field": "cx", "type": "quantitative", "scale": {"domain": [-0.55205, 0.35445], "nice": false, "zero": false}, "axis": null},
      "y": {"field": "cy", "type": "quantitative", "scale": {"domain": [0, 1], "nice": false, "zero": false}, "axis": null},
      "shape": {"field": "set", "type": "nominal", "scale": {"domain": ["Aliphatic", "Other plastic", "Unknown plastic", "Biofilm", "Planktonic"], "range": ["M-0.7675,-0.1716C-0.8811,-0.0548,-0.6296,0.1167,-0.2057,0.2115C0.2182,0.3063,0.6539,0.2884,0.7675,0.1716C0.8811,0.0548,0.6296,-0.1167,0.2057,-0.2115C-0.2182,-0.3063,-0.6539,-0.2884,-0.7675,-0.1716Z", "M0.1179,-0.4021C-0.1483,-0.42,-0.4168,-0.2546,-0.4819,-0.0325C-0.547,0.1896,-0.3841,0.3842,-0.1179,0.4021C0.1483,0.42,0.4168,0.2546,0.4819,0.0325C0.547,-0.1896,0.3841,-0.3842,0.1179,-0.4021Z", "M0.834,-0.0705C0.7873,-0.1974,0.3761,-0.2687,-0.0845,-0.2298C-0.5451,-0.1909,-0.8807,-0.0564,-0.834,0.0705C-0.7873,0.1974,-0.3761,0.2687,0.0845,0.2298C0.5451,0.1909,0.8807,0.0564,0.834,-0.0705Z", "M-0.3976,-0.3585C-0.6349,-0.298,-0.6493,-0.0885,-0.4297,0.1095C-0.2101,0.3075,0.1603,0.419,0.3976,0.3585C0.6349,0.298,0.6493,0.0885,0.4297,-0.1095C0.2101,-0.3075,-0.1603,-0.419,-0.3976,-0.3585Z", "M0.5882,-0.2921C0.3948,-0.3816,-0.0252,-0.3234,-0.3501,-0.1621C-0.675,-0.0008,-0.7816,0.2026,-0.5882,0.2921C-0.3948,0.3816,0.0252,0.3234,0.3501,0.1621C0.675,0.0008,0.7816,-0.2026,0.5882,-0.2921Z"]}, "legend": null},
      "fill": {"field": "set", "type": "nominal", "scale": {"domain": ["Aliphatic", "Other plastic", "Unknown plastic", "Biofilm", "Planktonic"], "range": ["rgba(95,158,160,0.5)", "rgba(139,0,139,0.45)", "rgba(30,144,255,0.45)", "rgba(255,140,0,0.4)", "rgba(255,215,0,0.28)"]}, "legend": null}
     }},
    {"data": {"name": "vcounts"}, "transform": [{"filter": "datum.panel === 'Terrestrial'"}],
     "mark": {"type": "text", "fontSize": 7.5, "color": "#222"},
     "encoding": {
      "x": {"field": "u", "type": "quantitative", "scale": {"domain": [-0.55205, 0.35445], "nice": false, "zero": false}, "axis": null},
      "y": {"field": "v", "type": "quantitative", "scale": {"domain": [0, 1], "nice": false, "zero": false}, "axis": null},
      "text": {"field": "n", "type": "nominal"}
     }},
    {"data": {"name": "vnames"}, "transform": [{"filter": "datum.panel === 'Terrestrial'"}],
     "mark": {"type": "text", "fontSize": 9, "color": "#222"},
     "encoding": {
      "x": {"field": "u", "type": "quantitative", "scale": {"domain": [-0.55205, 0.35445], "nice": false, "zero": false}, "axis": null},
      "y": {"field": "v", "type": "quantitative", "scale": {"domain": [0, 1], "nice": false, "zero": false}, "axis": null},
      "text": {"field": "name", "type": "nominal"}
     }}
   ]
  }
 ]
}
